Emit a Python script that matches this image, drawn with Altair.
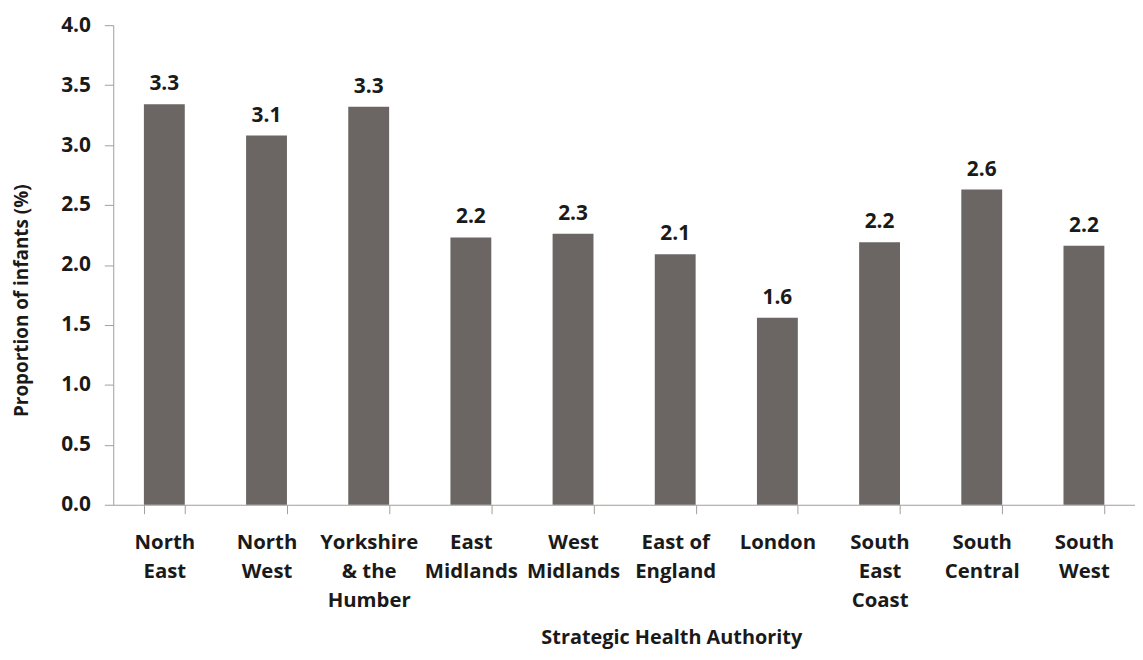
import json
import altair as alt
import pandas as pd

categories = ["North East", "North West", "Yorkshire & the Humber", "East Midlands",
              "West Midlands", "East of England", "London", "South East Coast",
              "South Central", "South West"]
values = [3.34, 3.08, 3.32, 2.23, 2.26, 2.09, 1.56, 2.19, 2.63, 2.16]
label_lines = [["North", "East"], ["North", "West"], ["Yorkshire", "& the", "Humber"],
               ["East", "Midlands"], ["West", "Midlands"], ["East of", "England"],
               ["London"], ["South", "East", "Coast"], ["South", "Central"], ["South", "West"]]
y_ticks = [0, 0.5, 1.0, 1.5, 2.0, 2.5, 3.0, 3.5, 4.0]

df = pd.DataFrame({"region": categories, "value": values})
lookup = json.dumps(dict(zip(categories, label_lines)))

FONT = "Open Sans"
BAR = "#6b6664"
AXIS = "#a39d9a"
TXT = "#1a1a1a"

base = alt.Chart(df).encode(
    x=alt.X("region:N", sort=categories, scale=alt.Scale(paddingInner=0.6, paddingOuter=0.3),
            axis=alt.Axis(title="Strategic Health Authority", labelAngle=0,
                          labelExpr=f"{lookup}[datum.label]",
                          labelFont=FONT, labelFontSize=20.5, labelFontWeight="bold",
                          labelColor=TXT, labelLineHeight=29, labelPadding=19,
                          labelBaseline="top",
                          tickBand="extent", tickSize=9, tickColor=AXIS, domainColor=AXIS,
                          titleFont=FONT, titleFontSize=20, titleFontWeight="bold",
                          titleColor=TXT, titleX=562, titleY=140,
                          titleBaseline="alphabetic", titleAnchor="middle")),
    y=alt.Y("value:Q", scale=alt.Scale(domain=[0, 4.0], nice=False),
            axis=alt.Axis(title="Proportion of infants (%)", values=y_ticks, format=".1f",
                          grid=False, tickSize=9, tickColor=AXIS, domainColor=AXIS,
                          labelFont=FONT, labelFontSize=21, labelFontWeight="bold",
                          labelColor=TXT, labelPadding=14,
                          titleFont=FONT, titleFontSize=19, titleFontWeight="bold",
                          titleColor=TXT, titlePadding=29, titleY=277)),
)

bars = base.mark_bar(color=BAR)
text = base.mark_text(dy=-14, baseline="alphabetic", font=FONT, fontSize=21,
                      fontWeight="bold", color=TXT).encode(
    text=alt.Text("value:Q", format=".1f"))

chart = (bars + text).properties(
    width=1029, height=483,
    autosize=alt.AutoSizeParams(type="none"),
    padding={"left": 106, "top": 15, "right": 0, "bottom": 146},
).configure_view(stroke=None)

chart.save("out.html", embed_options={"renderer": "svg", "actions": False})
